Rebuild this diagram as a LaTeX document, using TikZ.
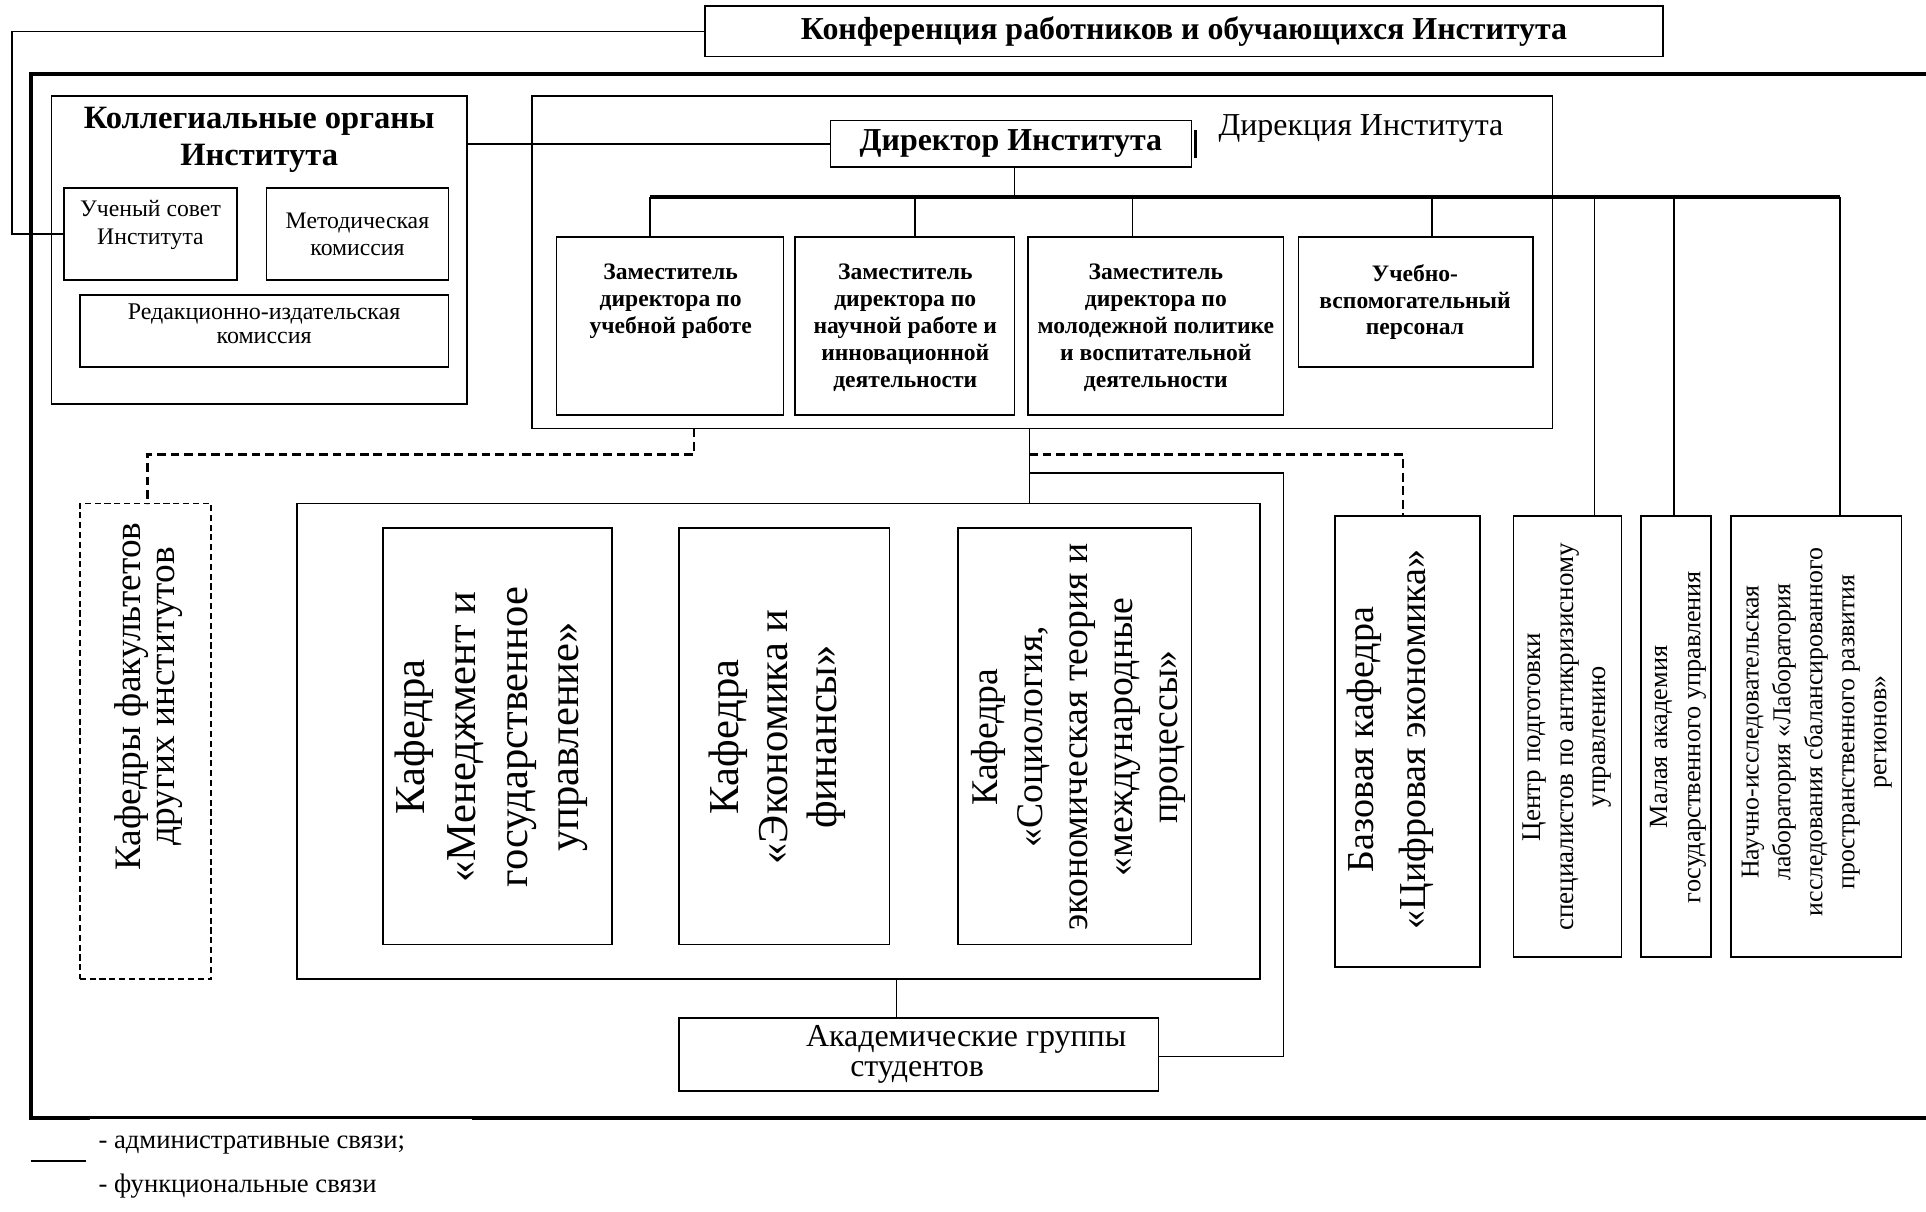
\documentclass[tikz,border=0pt]{standalone}
\usepackage{fontspec}
\setmainfont{Liberation Serif}
\newcommand{\fsz}[2]{\fontsize{#1}{#2}\selectfont}
\begin{document}
\begin{tikzpicture}[x=1pt,y=-1pt,
  box/.style={draw,line width=1.3pt,inner sep=0pt,outer sep=0pt},
  dbox/.style={draw,line width=1.4pt,dash pattern=on 5pt off 3pt,inner sep=0pt,outer sep=0pt},
  txt/.style={inner sep=0pt,align=center},
  vtxt/.style={inner sep=0pt,align=center,rotate=90},
  link/.style={line width=1.3pt},
  dlink/.style={line width=1.8pt,dash pattern=on 7pt off 4pt},
  bus/.style={line width=3.2pt}]
\useasboundingbox (0,0) rectangle (1568,986);
\fill[white] (0,0) rectangle (1568,986);

% outer frame
\draw[line width=3.5pt] (25,60) rectangle (1640,910);
\draw[white,line width=1.3pt] (73,911.4) -- (384,911.4);

% conference
\node[box,minimum width=780pt,minimum height=41pt] (conf) at (964,25.5) {};
\node[txt,font=\fsz{26}{30}\bfseries] (conft) at (964,26) {Конференция работников и обучающихся Института};

% collegial bodies
\node[box,minimum width=338pt,minimum height=251pt] (koll) at (211,203.5) {};
\node[txt,font=\fsz{26.5}{30}\bfseries] (kollt) at (211,114) {Коллегиальные органы\\Института};
\node[box,minimum width=141pt,minimum height=75pt] (usovet) at (122.5,190.5) {};
\node[txt,font=\fsz{19.3}{23}] (usovett) at (122.5,183) {Ученый совет\\Института};
\node[box,minimum width=148pt,minimum height=75pt,txt,font=\fsz{19.3}{22}] (metod) at (291,190.5) {Методическая\\комиссия};
\node[box,minimum width=300pt,minimum height=59pt] (redak) at (215,269.5) {};
\node[txt,font=\fsz{19.5}{20}] (redakt) at (215,263.5) {Редакционно-издательская\\комиссия};

% directorate
\node[box,minimum width=831pt,minimum height=271pt] (dirbox) at (848.5,213.5) {};
\node[box,minimum width=294pt,minimum height=38pt,txt,font=\fsz{26}{30}\bfseries] (director) at (823,117) {Директор Института};
\draw[line width=2.6pt] (973,106) -- (973,129);
\node[txt,font=\fsz{26}{30}] (dirlabel) at (1108,105) {Дирекция Института};

% deputies
\node[box,minimum width=185pt,minimum height=145pt] (dep1) at (545.5,265.5) {};
\node[box,minimum width=179pt,minimum height=145pt] (dep2) at (736.5,265.5) {};
\node[box,minimum width=208pt,minimum height=145pt] (dep3) at (941,265.5) {};
\node[box,minimum width=191pt,minimum height=106pt] (dep4) at (1152.5,246) {};
\begin{scope}[every node/.style={txt,anchor=north,font=\fsz{19.2}{21.8}\bfseries}]
\node (dep1t) at (546,215) {Заместитель\\директора по\\учебной работе};
\node (dep2t) at (737,215) {Заместитель\\директора по\\научной работе и\\инновационной\\деятельности};
\node (dep3t) at (941,215) {Заместитель\\директора по\\молодежной политике\\и воспитательной\\деятельности};
\node (dep4t) at (1152,215) {Учебно-\\вспомогательный\\персонал};
\end{scope}

% right column units
\node[box,minimum width=118pt,minimum height=367pt] (baz) at (1146,603.5) {};
\node[vtxt,font=\fsz{31}{42}] (bazt) at (1132,602) {Базовая кафедра\\«Цифровая экономика»};
\node[box,minimum width=88pt,minimum height=359pt] (centre) at (1276,599.5) {};
\node[vtxt,font=\fsz{22}{26.5}] (centret) at (1276,600) {Центр подготовки\\специалистов по антикризисному\\управлению};
\node[box,minimum width=57pt,minimum height=359pt] (malaya) at (1364.5,599.5) {};
\node[vtxt,font=\fsz{21.4}{27}] (malayat) at (1366,600) {Малая академия\\государственного управления};
\node[box,minimum width=139pt,minimum height=359pt] (nii) at (1478.5,599.5) {};
\node[vtxt,font=\fsz{21}{26}] (niit) at (1479,596) {Научно-исследовательская\\лаборатория «Лаборатория\\исследования сбалансированного\\пространственного развития\\регионов»};

% departments
\node[dbox,minimum width=107pt,minimum height=387pt] (kfac) at (118.5,603.5) {};
\node[vtxt,font=\fsz{30.4}{27}] (kfact) at (121,567) {Кафедры факультетов\\других институтов};
\node[box,minimum width=784pt,minimum height=387pt] (grp) at (634,603.5) {};
\node[box,minimum width=186pt,minimum height=339pt] (kaf1) at (405,599.5) {};
\node[vtxt,font=\fsz{34.7}{42}] (kaf1t) at (400,600) {Кафедра\\«Менеджмент и\\государственное\\управление»};
\node[box,minimum width=171pt,minimum height=339pt] (kaf2) at (638.5,599.5) {};
\node[vtxt,font=\fsz{34.7}{40}] (kaf2t) at (633,600) {Кафедра\\«Экономика и\\финансы»};
\node[box,minimum width=190pt,minimum height=339pt] (kaf3) at (875,599.5) {};
\node[vtxt,font=\fsz{30.7}{36.8}] (kaf3t) at (878,600) {Кафедра\\«Социология,\\экономическая теория и\\«международные\\процессы»};

% students
\node[box,minimum width=390pt,minimum height=59pt] (akad) at (748,858.5) {};
\node[txt,align=left,anchor=west,font=\fsz{26}{25}] (akadt) at (656,858.5) {Академические группы\\\hspace*{36pt}студентов};

% connectors
\coordinate (c0) at (10,100);
\draw[link] (conf.west) -| (c0) |- (usovet.west);
\draw[link] (director.west) -- (director.west -| koll.east);
\coordinate (bl) at (529,160);
\coordinate (br) at (1498,160);
\draw[bus] (bl) -- (br);
\coordinate (dj) at (826,160);
\draw[link] (dj |- director.south) -- (dj);
\foreach \xx/\tg in {529/dep1,745/dep2,922/dep3,1166/dep4,1298/centre,1363/malaya,1498/nii}{
  \coordinate (drop) at (\xx,160);
  \draw[link] (drop) -- (drop |- \tg.north);
}
\coordinate (dd) at (565,370);
\draw[dlink] (dd |- dirbox.south) -- (dd) -| ([xshift=1.5pt]kfac.north);
\coordinate (sm) at (838,370);
\draw[link] (sm |- dirbox.south) -- (sm |- grp.north);
\draw[dlink] (sm) -| ([xshift=-4pt]baz.north);
\coordinate (ak) at (1045,385);
\draw[link] (sm |- ak) -- (ak) |- ([yshift=-1.5pt]akad.east);
\coordinate (gx) at (730,813);
\draw[link] (gx |- grp.south) -- (gx |- akad.north);

% legend
\coordinate (la) at (25,945);
\coordinate (lb) at (70,945);
\draw[link] (la) -- (lb);
\node[txt,anchor=west,font=\fsz{21.7}{24}] (leg1) at (80,932) {- административные связи;};
\node[txt,anchor=west,font=\fsz{21.7}{24}] (leg2) at (80,966) {- функциональные связи};
\end{tikzpicture}
\end{document}
